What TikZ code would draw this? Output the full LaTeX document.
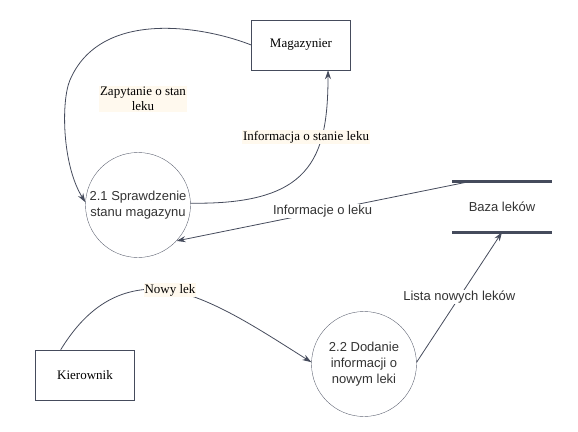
\documentclass[tikz,border=0pt]{standalone}
\usepackage{fontspec}
\setmainfont{Liberation Serif}
\setsansfont{Liberation Sans}
\usetikzlibrary{arrows.meta}
\definecolor{flowline}{HTML}{454B5C}
\definecolor{notebg}{HTML}{FFF9EE}
\definecolor{txtgray}{HTML}{333333}

\begin{document}
\begin{tikzpicture}[x=1pt,y=-1pt,>={Stealth[length=9pt,width=6pt]}]
		\tikzstyle{entity}=[draw=flowline,shape=rectangle,minimum width=99pt,minimum height=50pt,font=\fontsize{13}{15}\selectfont]
		\tikzstyle{process}=[draw=flowline!85,shape=circle,minimum size=105pt,inner sep=0pt,align=center,text=txtgray,font=\sffamily\fontsize{13}{15.7}\selectfont]
		\tikzstyle{store}=[shape=rectangle,minimum width=99pt,minimum height=50pt,text=txtgray,font=\sffamily\fontsize{13}{15}\selectfont]
		\tikzstyle{flow}=[draw=flowline,line width=0.8pt]
		\tikzstyle{annot_serif}=[fill=notebg,inner sep=1pt,align=center,font=\fontsize{13}{15}\selectfont]
		\tikzstyle{annot_sans}=[fill=white,inner sep=1pt,text=txtgray,font=\sffamily\fontsize{13}{15}\selectfont]

		\useasboundingbox (0,0) rectangle (578,431);

		\node[entity](mag) at (301,45){Magazynier};
		\node[entity](kier) at (85,375){Kierownik};

		\node[process](p21) at (138,205){2.1 Sprawdzenie\\stanu magazynu};
		\node[process](p22) at (364,364){2.2 Dodanie\\informacji o\\nowym leki};

		\node[store](baza) at (502,207){Baza leków};
		\draw[flowline,line width=3pt] (baza.north west) -- (baza.north east);
		\draw[flowline,line width=3pt] (baza.south west) -- (baza.south east);

		\draw[flow,->] (mag.west) .. controls (200,25) and (100,10) .. (70,80)
		  .. controls (61,101) and (62,165) .. (p21.177);
		\draw[flow,->] (p21.2) .. controls (310,205) and (328,160) .. (mag.-43);
		\draw[flow,->] (baza.143) -- (p21.-43)
		  node[annot_sans,midway](info){Informacje o leku};
		\draw[flow,->] (kier.134) .. controls (85,310) and (115,289) .. (155,289)
		  .. controls (200,289) and (260,330) .. (p22.178);
		\draw[flow,->] (p22.2) -- (baza.south)
		  node[annot_sans,midway](lista){Lista nowych leków};

		\node[annot_serif](zap) at (143,99){Zapytanie o stan\\leku};
		\node[annot_serif](stan) at (306,137){Informacja o stanie leku};
		\node[annot_serif](nowy) at (170,290){Nowy lek};

\end{tikzpicture}
\end{document}
